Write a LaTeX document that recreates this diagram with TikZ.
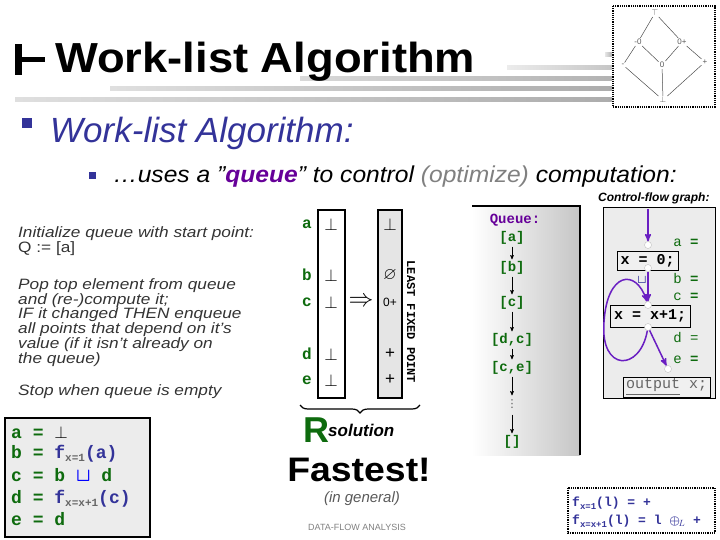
\documentclass[tikz,border=0pt]{standalone}
\usepackage{fontspec}
\setmainfont{Liberation Sans}
\setmonofont{Liberation Mono}
\newfontfamily\symfont{DejaVu Sans}
\usepackage{amsmath,amssymb}
\usetikzlibrary{arrows,positioning,decorations.pathreplacing}
\definecolor{navy}{HTML}{333399}
\definecolor{qpurple}{HTML}{660099}
\definecolor{eqgreen}{HTML}{0E6B0E}
\definecolor{txtgray}{HTML}{333333}
\definecolor{cfgpurple}{HTML}{6A1FC2}
\newcommand{\fsub}[1]{\textcolor{navy}{f}\raisebox{-3pt}{\textcolor{gray!80!black}{\fontsize{11}{11}\selectfont #1}}}
\newcommand{\wider}[2][1.15]{\scalebox{#1}[1]{#2}}
\tikzset{
  eqline/.style={anchor=base west, inner sep=0pt, text=eqgreen, font=\ttfamily\bfseries\fontsize{18}{18}\selectfont},
  varname/.style={text=eqgreen, inner sep=0pt, font=\ttfamily\bfseries\fontsize{16}{16}\selectfont},
  botval/.style={inner sep=0pt, font=\fontsize{17}{17}\selectfont},
  qitem/.style={text=eqgreen, inner sep=1pt, font=\ttfamily\bfseries\fontsize{14}{14}\selectfont},
  qarrow/.style={->, line width=0.6pt, shorten >=1pt, shorten <=1pt},
  cfgbox/.style={draw, line width=1pt, fill=gray!12, font=\ttfamily\bfseries\fontsize{15}{15}\selectfont, inner sep=0pt},
  cfglabel/.style={text=eqgreen, inner sep=0pt, font=\ttfamily\fontsize{14}{14}\selectfont},
  port/.style={circle, draw=gray!50, fill=white, inner sep=0pt, minimum size=7pt},
  flow/.style={->, draw=cfgpurple, line width=1.5pt},
  latnode/.style={inner sep=1pt, text=gray!70!black, font=\fontsize{8}{8}\selectfont},
  latedge/.style={draw=gray!60!black, line width=0.5pt},
  lefttext/.style={anchor=north west, inner sep=0pt, text=txtgray, font=\itshape\fontsize{15}{13.6}\selectfont},
}

\begin{document}
\begin{tikzpicture}[x=1pt,y=-1pt,>=stealth']
  \useasboundingbox (0,0) rectangle (720,540);

  % Title stripes
  \shade[left color=gray!20, right color=gray!60] (605,53) rectangle (612,57);
  \shade[left color=gray!15, right color=gray!45] (507,66) rectangle (612,70);
  \shade[left color=gray!30, right color=gray!60] (300,77) rectangle (612,81);
  \shade[left color=gray!25, right color=gray!65] (110,87) rectangle (612,91);
  \shade[left color=gray!25, right color=gray!65] (15,98) rectangle (612,102);

  % Title
  \fill (15,44) rectangle (22,75);
  \fill (22,57) rectangle (45,62);
  \node[anchor=base west, inner sep=0pt, font=\bfseries\fontsize{42}{42}\selectfont] (title) at (55,73) {\wider[1.08]{Work-list Algorithm}};

  % Lattice
  \draw[line width=2.5pt, dash pattern=on 1.2pt off 1pt] (613,6) rectangle (715,107);
  \node[latnode] (top) at (655,13) {$\top$};
  \node[latnode] (mz) at (638,42) {-0};
  \node[latnode] (zp) at (682,42) {0+};
  \node[latnode] (neg) at (623,65) {-};
  \node[latnode] (zero) at (662,65) {0};
  \node[latnode] (pos) at (705,62) {+};
  \node[latnode] (bot) at (663,100) {$\bot$};
  \draw[latedge] (top) -- (mz);
  \draw[latedge] (top) -- (zp);
  \draw[latedge] (mz) -- (neg);
  \draw[latedge] (mz) -- (zero);
  \draw[latedge] (zp) -- (zero);
  \draw[latedge] (zp) -- (pos);
  \draw[latedge] (neg) -- (bot);
  \draw[latedge] (zero) -- (bot);
  \draw[latedge] (pos) -- (bot);

  % Bullets
  \fill[navy] (22,118) rectangle (32,128);
  \node[anchor=base west, inner sep=0pt, text=navy, font=\itshape\fontsize{35}{35}\selectfont] (head) at (50,143) {Work-list Algorithm:};
  \fill[navy] (89,172) rectangle (96,179);
  \node[anchor=base west, inner sep=0pt, font=\itshape\fontsize{23}{23}\selectfont] (sub) at (113,183)
    {\wider[1.07]{\dots uses a ”\textcolor{qpurple}{\bfseries queue}” to control \textcolor{gray}{(optimize)} computation:}};

  % Left text
  \node[lefttext] (init) at (18,226) {\wider{\begin{tabular}{@{}l@{}}Initialize queue with start point:\\\upshape Q := [a]\end{tabular}}};
  \node[lefttext] (pop) at (18,278) {\wider{\begin{tabular}{@{}l@{}}Pop top element from queue\\and (re-)compute it;\\IF it changed THEN enqueue\\all points that depend on it’s\\value (if it isn’t already on\\the queue)\end{tabular}}};
  \node[lefttext] (stop) at (18,384) {\wider{Stop when queue is empty}};

  % Equations
  \draw[line width=2pt, fill=gray!15] (5,418) rectangle (150,537);
  \node[eqline] (eqa) at (11,438) {a = \textcolor{black}{\mdseries$\bot$}};
  \node[eqline] (eqb) at (11,458) {b = \fsub{x=1}\textcolor{navy}{(a)}};
  \node[eqline] (eqc) at (11,481) {c = b \textcolor{blue}{\scalebox{1.1}{$\boldsymbol{\sqcup}$}} d};
  \node[eqline] (eqd) at (11,503) {d = \fsub{x=x+1}\textcolor{navy}{(c)}};
  \node[eqline] (eqe) at (11,525) {e = d};

  % Solution columns
  \node[draw, line width=1.5pt, minimum width=27pt, minimum height=188pt, inner sep=0pt] (col1) at (331.5,304) {};
  \node[draw, line width=1.5pt, fill=gray!20, minimum width=24pt, minimum height=188pt, inner sep=0pt] (col2) at (390,304) {};
  \foreach \v/\y in {a/224, b/275, c/302, d/354, e/380} {
    \node[varname] (v\v) at (307,\y) {\v};
    \node[botval] (s\v) at (331,\y) {$\bot$};
  }
  \node[botval] (ra) at (390,224) {$\bot$};
  \node[botval] (rb) at (390,275) {$\varnothing$};
  \node[botval, font=\fontsize{12}{12}\selectfont] (rc) at (390,302) {0+};
  \node[botval] (rd) at (390,354) {+};
  \node[botval] (re) at (390,380) {+};
  \node[inner sep=0pt, font=\fontsize{26}{26}\selectfont] (imp) at (361,302) {$\Rightarrow$};
  \node[rotate=-90, inner sep=0pt, font=\ttfamily\bfseries\fontsize{12}{12}\selectfont] (lfp) at (411,322) {LEAST FIXED POINT};

  % Brace and solution
  \coordinate (brl) at (300,405);
  \coordinate (brr) at (420,405);
  \draw[line width=1.2pt, decorate, decoration={brace, amplitude=8pt, mirror}] (brl) -- (brr);
  \node[inner sep=0pt, text=eqgreen, font=\bfseries\fontsize{36}{36}\selectfont] (bigR) at (316,430) {R};
  \node[anchor=west, inner sep=0pt, font=\bfseries\itshape\fontsize{17}{17}\selectfont] (sol) at (328,430) {solution};
  \node[inner sep=0pt, font=\bfseries\fontsize{34}{34}\selectfont] (fast) at (359,470) {\wider[1.1]{Fastest!}};
  \node[inner sep=0pt, text=gray!70!black, font=\itshape\fontsize{15}{15}\selectfont] (gen) at (362,499) {(in general)};
  \node[inner sep=0pt, text=gray, font=\fontsize{9}{9}\selectfont] (dfa) at (357,527) {DATA-FLOW ANALYSIS};

  % Queue
  \shade[left color=white, right color=gray!45] (472,206) rectangle (580,455);
  \draw[line width=1.5pt] (472,206) -- (580,206) -- (580,455);
  \node[qitem, text=qpurple] (qh) at (515,220) {Queue:};
  \node[qitem] (q1) at (512,238) {[a]};
  \node[qitem] (q2) at (512,268) {[b]};
  \node[qitem] (q3) at (512,303) {[c]};
  \node[qitem] (q4) at (512,340) {[d,c]};
  \node[qitem] (q5) at (512,368) {[c,e]};
  \node[inner sep=0pt, text=gray!70!black, font=\symfont\fontsize{11}{11}\selectfont] (q6) at (512,404) {⋮};
  \node[qitem] (q7) at (512,442) {[]};
  \draw[qarrow] (q1) -- (q2);
  \draw[qarrow] (q2) -- (q3);
  \draw[qarrow] (q3) -- (q4);
  \draw[qarrow] (q4) -- (q5);
  \draw[qarrow, shorten >=4pt] (q5) -- (q6);
  \draw[qarrow, shorten <=6pt] (q6) -- (q7);

  % Control-flow graph
  \node[anchor=base west, inner sep=0pt, font=\bfseries\itshape\fontsize{12}{12}\selectfont] (cfgt) at (598,202) {Control-flow graph:};
  \draw[fill=gray!15] (603,207) rectangle (715,398);
  \node[cfgbox, minimum width=61pt, minimum height=19pt] (x0) at (647.5,261) {x = 0;};
  \node[cfgbox, minimum width=80pt, minimum height=22pt] (x1) at (650,316) {x = x+1;};
  \node[cfgbox, minimum width=87pt, minimum height=20pt, text=gray!80!black, font=\ttfamily\fontsize{15}{15}\selectfont] (out) at (666.5,387) {\underline{output} x;};
  \node[cfglabel] (la) at (686,243) {a \textbf{=}};
  \node[cfglabel] (lb) at (686,278) {b \textbf{=}};
  \node[cfglabel] (lc) at (686,297) {c \textbf{=}};
  \node[cfglabel] (ld) at (686,338) {d =};
  \node[cfglabel] (le) at (686,360) {e \textbf{=}};
  \coordinate (cfgin) at (648,209);
  \node[port] (p1) at (648,245) {};
  \node[port] (p2) at (648,268) {};
  \node[port] (p3) at (648,305) {};
  \node[port] (p4) at (648,327) {};
  \node[port] (p5) at (668,369) {};
  \draw[flow] (cfgin) -- (p1);
  \draw[flow] (p2) -- (p3);
  \draw[flow] (p4) -- (p5);
  \draw[flow] (p4) .. controls (640,372) and (600,372) .. (604,322) .. controls (607,272) and (636,268) .. (p3);
  \node[inner sep=0pt, text=navy, font=\fontsize{13}{13}\selectfont] (join) at (642,280) {$\boldsymbol{\sqcup}$};

  % Transfer functions
  \draw[line width=2pt, dash pattern=on 1pt off 0.8pt] (568,488) rectangle (715,533);
  \node[anchor=base west, inner sep=0pt, text=navy, font=\ttfamily\bfseries\fontsize{13}{13}\selectfont] (tf1) at (572,506)
    {f\raisebox{-3pt}{\fontsize{9}{9}\selectfont x=1}(l) = +};
  \node[anchor=base west, inner sep=0pt, text=navy, font=\ttfamily\bfseries\fontsize{13}{13}\selectfont] (tf2) at (572,524)
    {f\raisebox{-3pt}{\fontsize{9}{9}\selectfont x=x+1}(l) = l $\boldsymbol{\oplus}_{\!L}$ +};
\end{tikzpicture}
\end{document}
